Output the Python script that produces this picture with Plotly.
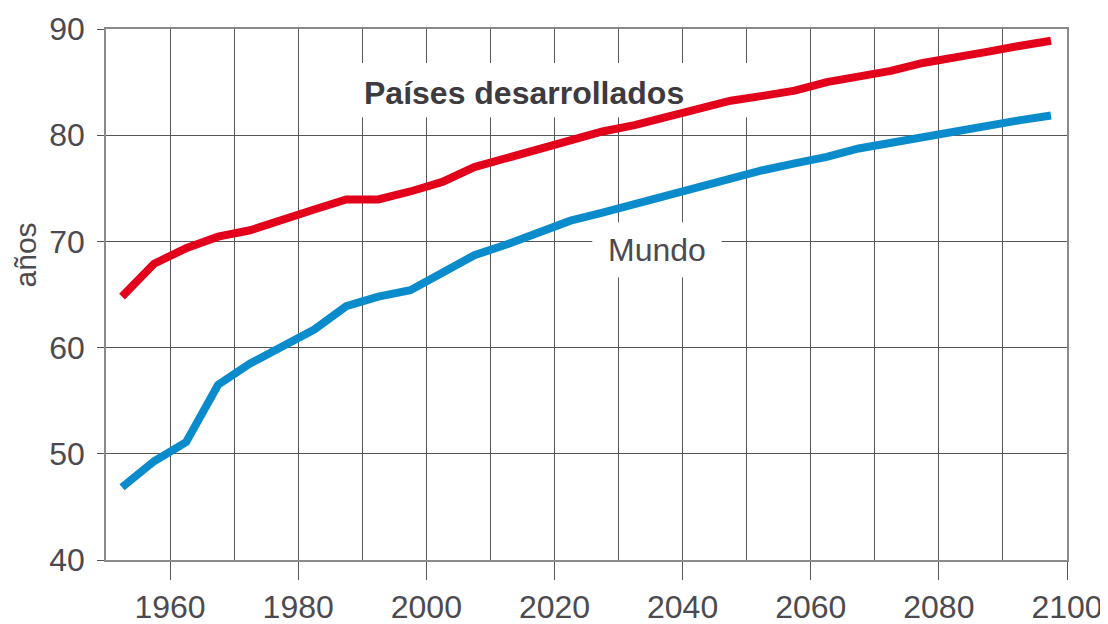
import plotly.graph_objects as go

years = [1952.5 + 5 * i for i in range(30)]
desarrollados = [64.8, 67.9, 69.35, 70.45, 71.05, 72.1, 73.0, 73.95, 73.95, 74.7,
                 75.6, 77.0, 77.8, 78.6, 79.55, 80.35, 80.95, 81.75, 82.4, 83.25,
                 83.7, 84.2, 85.0, 85.55, 86.05, 86.8, 87.4, 87.85, 88.4, 88.9]
mundo = [46.85, 49.3, 51.1, 56.5, 58.5, 60.1, 61.7, 63.9, 64.8, 65.4,
         67.0, 68.7, 69.7, 70.8, 71.95, 72.7, 73.5, 74.3, 75.15, 75.8,
         76.7, 77.35, 77.95, 78.75, 79.3, 79.8, 80.45, 80.9, 81.4, 81.85]
label_des = "Países desarrollados"
label_mun = "Mundo"
y_title = "años"

RED = "#e2001a"
BLUE = "#0a8ccc"
TXT = "#4d4a4f"
GRID = "#555555"
FONT = "Liberation Sans, Arial, sans-serif"

fig = go.Figure()
fig.add_trace(go.Scatter(x=years, y=desarrollados, mode="lines",
                         line=dict(color=RED, width=8), hoverinfo="skip"))
fig.add_trace(go.Scatter(x=years, y=mundo, mode="lines",
                         line=dict(color=BLUE, width=8), hoverinfo="skip"))

# white label backgrounds sit between gridlines and traces
fig.add_shape(type="rect", layer="between", xref="x", yref="y",
              x0=1987.5, x1=2055.0, y0=81.7, y1=86.8,
              fillcolor="white", line=dict(width=0))
fig.add_shape(type="rect", layer="between", xref="x", yref="y",
              x0=2025.9, x1=2046.1, y0=66.6, y1=71.8,
              fillcolor="white", line=dict(width=0))

fig.add_annotation(x=2015.3, y=84.0, xref="x", yref="y", text="<b>" + label_des + "</b>",
                   showarrow=False, font=dict(family=FONT, size=32, color="#3d3a40"))
fig.add_annotation(x=2036.0, y=69.2, xref="x", yref="y", text=label_mun,
                   showarrow=False, font=dict(family=FONT, size=32, color=TXT))
fig.add_annotation(x=-0.084, y=0.574, xref="paper", yref="paper", text=y_title,
                   xanchor="center", yanchor="middle",
                   textangle=-90, showarrow=False,
                   font=dict(family=FONT, size=30, color=TXT))

# page body has an 8px margin, so the figure is sized to fit the 1108x624 window
fig.update_layout(
    width=1100, height=616,
    margin=dict(l=98, r=41, t=21, b=64),
    paper_bgcolor="white", plot_bgcolor="white",
    showlegend=False,
    font=dict(family=FONT, size=32, color=TXT),
)
fig.update_xaxes(
    range=[1950, 2100], dtick=20, tick0=1960, automargin=False,
    showgrid=True, gridcolor=GRID, gridwidth=1.3,
    ticks="outside", ticklen=18, tickcolor=GRID, tickwidth=1.3,
    minor=dict(dtick=10, tick0=1950, showgrid=True, gridcolor=GRID, gridwidth=1.3, ticks=""),
    showline=True, mirror=True, linecolor="#8a8a8a", linewidth=1.5,
    zeroline=False, tickfont=dict(family=FONT, size=32, color=TXT),
)
fig.update_yaxes(
    range=[40, 90], dtick=10, tick0=40, automargin=False,
    showgrid=True, gridcolor=GRID, gridwidth=1.3,
    ticks="outside", ticklen=7, tickcolor=GRID, tickwidth=1.3,
    ticklabelstandoff=6,
    showline=True, mirror=True, linecolor="#8a8a8a", linewidth=1.5,
    zeroline=False, tickfont=dict(family=FONT, size=32, color=TXT),
)

fig.write_html("out.html")
